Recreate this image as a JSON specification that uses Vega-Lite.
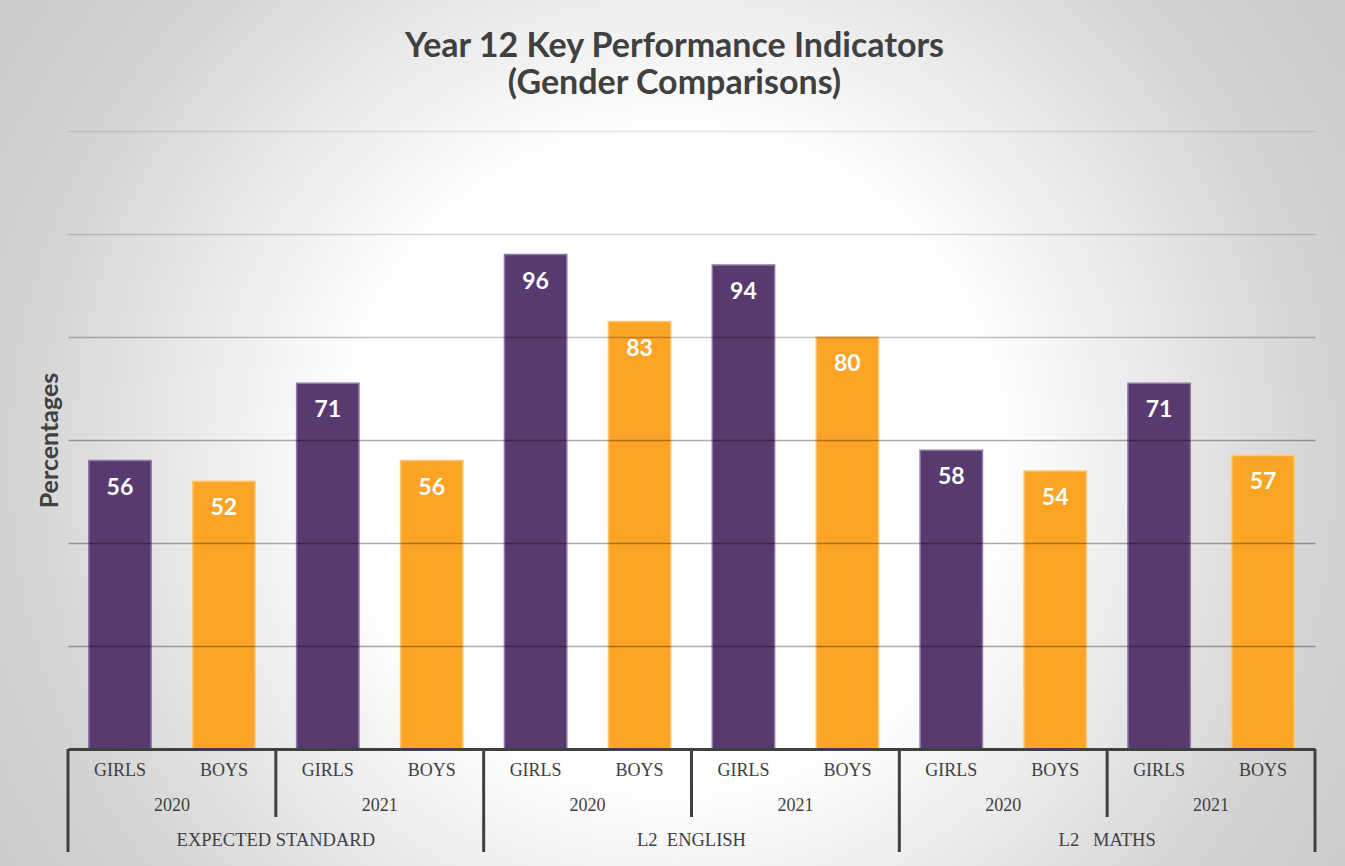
{
  "$schema": "https://vega.github.io/schema/vega-lite/v6.json",
  "width": 1247,
  "height": 618,
  "autosize": "none",
  "padding": {"left": 68, "top": 131, "right": 30, "bottom": 117},
  "background": "#dcdcdc",
  "config": {"view": {"stroke": null}, "font": "Lato"},
  "title": {
    "text": ["Year 12 Key Performance Indicators", "(Gender Comparisons)"],
    "font": "Lato",
    "fontSize": 34,
    "fontWeight": "bold",
    "color": "#404040",
    "lineHeight": 37,
    "anchor": "middle",
    "dx": -17,
    "offset": -101
  },
  "resolve": {"scale": {"x": "independent"}, "axis": {"x": "independent"}},
  "layer": [
    {
      "data": {"values": [{}]},
      "mark": {
        "type": "rect",
        "fill": {
          "gradient": "radial",
          "x1": 0.5, "y1": 0.52, "r1": 0,
          "x2": 0.5, "y2": 0.52, "r2": 0.6,
          "stops": [
            {"offset": 0, "color": "#ffffff"},
            {"offset": 0.4, "color": "#ffffff"},
            {"offset": 0.82, "color": "#d3d3d3"},
            {"offset": 1, "color": "#cbcbcb"}
          ]
        }
      },
      "encoding": {
        "x": {"datum": -0.05453, "type": "quantitative", "scale": {"domain": [0, 1], "nice": false, "zero": false}, "axis": null},
        "x2": {"datum": 1.02406},
        "y": {
          "datum": 145.44, "type": "quantitative", "scale": {"domain": [0, 120], "nice": false},
          "axis": {"labels": false, "ticks": false, "domain": false, "grid": true, "values": [20, 40, 60, 80, 100, 120], "gridColor": "#000000", "gridOpacity": {"condition": [{"test": "datum.value >= 120", "value": 0.1}, {"test": "datum.value >= 100", "value": 0.16}, {"test": "datum.value >= 80", "value": 0.24}], "value": 0.33}, "gridWidth": 1.5, "zindex": 1, "title": "Percentages", "titleFont": "Lato", "titleFontSize": 25, "titleFontWeight": "bold", "titleColor": "#404040", "titlePadding": 6}
        },
        "y2": {"datum": -22.72}
      }
    },
    {
      "data": {
        "values": [
          {"subject": "EXPECTED STANDARD", "year": "2020", "gender": "GIRLS", "value": 56, "grp": "EXPECTED STANDARD|2020"},
          {"subject": "EXPECTED STANDARD", "year": "2020", "gender": "BOYS", "value": 52, "grp": "EXPECTED STANDARD|2020"},
          {"subject": "EXPECTED STANDARD", "year": "2021", "gender": "GIRLS", "value": 71, "grp": "EXPECTED STANDARD|2021"},
          {"subject": "EXPECTED STANDARD", "year": "2021", "gender": "BOYS", "value": 56, "grp": "EXPECTED STANDARD|2021"},
          {"subject": "L2\u00a0\u00a0ENGLISH", "year": "2020", "gender": "GIRLS", "value": 96, "grp": "L2 ENGLISH|2020"},
          {"subject": "L2\u00a0\u00a0ENGLISH", "year": "2020", "gender": "BOYS", "value": 83, "grp": "L2 ENGLISH|2020"},
          {"subject": "L2\u00a0\u00a0ENGLISH", "year": "2021", "gender": "GIRLS", "value": 94, "grp": "L2 ENGLISH|2021"},
          {"subject": "L2\u00a0\u00a0ENGLISH", "year": "2021", "gender": "BOYS", "value": 80, "grp": "L2 ENGLISH|2021"},
          {"subject": "L2\u00a0\u00a0\u00a0MATHS", "year": "2020", "gender": "GIRLS", "value": 58, "grp": "L2 MATHS|2020"},
          {"subject": "L2\u00a0\u00a0\u00a0MATHS", "year": "2020", "gender": "BOYS", "value": 54, "grp": "L2 MATHS|2020"},
          {"subject": "L2\u00a0\u00a0\u00a0MATHS", "year": "2021", "gender": "GIRLS", "value": 71, "grp": "L2 MATHS|2021"},
          {"subject": "L2\u00a0\u00a0\u00a0MATHS", "year": "2021", "gender": "BOYS", "value": 57, "grp": "L2 MATHS|2021"}
        ]
      },
      "layer": [
        {
          "mark": {"type": "bar", "strokeWidth": 1.5},
          "encoding": {
            "x": {
              "field": "grp", "type": "nominal",
              "scale": {
                "domain": ["EXPECTED STANDARD|2020", "EXPECTED STANDARD|2021", "L2 ENGLISH|2020", "L2 ENGLISH|2021", "L2 MATHS|2020", "L2 MATHS|2021"],
                "paddingInner": 0, "paddingOuter": 0
              },
              "axis": {"labels": false, "ticks": false, "grid": false, "domain": true, "domainColor": "#404040", "domainWidth": 3, "title": null, "zindex": 1}
            },
            "xOffset": {"field": "gender", "type": "nominal", "scale": {"domain": ["GIRLS", "BOYS"], "paddingInner": 0.4, "paddingOuter": 0.2}},
            "y": {
              "field": "value", "type": "quantitative",
              "scale": {"domain": [0, 120], "nice": false},
              "axis": {"labels": false, "ticks": false, "domain": false, "grid": true, "values": [20, 40, 60, 80, 100, 120], "gridColor": "#000000", "gridOpacity": {"condition": [{"test": "datum.value >= 120", "value": 0.1}, {"test": "datum.value >= 100", "value": 0.16}, {"test": "datum.value >= 80", "value": 0.24}], "value": 0.33}, "gridWidth": 1.5, "zindex": 1, "title": "Percentages", "titleFont": "Lato", "titleFontSize": 25, "titleFontWeight": "bold", "titleColor": "#404040", "titlePadding": 6}
            },
            "color": {"field": "gender", "type": "nominal", "scale": {"domain": ["GIRLS", "BOYS"], "range": ["#583b6e", "#fba425"]}, "legend": null},
            "stroke": {"field": "gender", "type": "nominal", "scale": {"domain": ["GIRLS", "BOYS"], "range": ["#8d77a3", "#fdc673"]}, "legend": null}
          }
        },
        {
          "mark": {"type": "text", "color": "#ffffff", "font": "Lato", "fontWeight": "bold", "fontSize": 23, "baseline": "middle", "dy": 27},
          "encoding": {
            "x": {"field": "grp", "type": "nominal"},
            "xOffset": {"field": "gender", "type": "nominal"},
            "y": {"field": "value", "type": "quantitative"},
            "text": {"field": "value", "type": "quantitative"}
          }
        },
        {
          "mark": {"type": "text", "color": "#404040", "font": "Liberation Serif", "fontSize": 18, "baseline": "middle"},
          "encoding": {
            "x": {"field": "grp", "type": "nominal"},
            "xOffset": {"field": "gender", "type": "nominal"},
            "y": {"datum": -4.27, "type": "quantitative"},
            "text": {"field": "gender", "type": "nominal"}
          }
        },
        {
          "transform": [{"filter": "datum.gender == 'GIRLS'"}],
          "mark": {"type": "text", "color": "#404040", "font": "Liberation Serif", "fontSize": 18, "baseline": "middle"},
          "encoding": {
            "x": {"field": "grp", "type": "nominal"},
            "y": {"datum": -11.07, "type": "quantitative"},
            "text": {"field": "year", "type": "nominal"}
          }
        },
        {
          "transform": [{"filter": "datum.gender == 'GIRLS' && datum.year == '2021'"}],
          "mark": {"type": "text", "color": "#404040", "font": "Liberation Serif", "fontSize": 18.5, "baseline": "middle"},
          "encoding": {
            "x": {"field": "grp", "type": "nominal", "bandPosition": 0},
            "y": {"datum": -17.67, "type": "quantitative"},
            "text": {"field": "subject", "type": "nominal"}
          }
        },
        {
          "transform": [{"filter": "datum.gender == 'GIRLS' && datum.year == '2021'"}],
          "mark": {"type": "rule", "color": "#404040", "strokeWidth": 3},
          "encoding": {
            "x": {"field": "grp", "type": "nominal", "bandPosition": 0},
            "y": {"datum": 0, "type": "quantitative"},
            "y2": {"datum": -13.2}
          }
        },
        {
          "transform": [{"filter": "datum.gender == 'GIRLS' && datum.year == '2020'"}],
          "mark": {"type": "rule", "color": "#404040", "strokeWidth": 3},
          "encoding": {
            "x": {"field": "grp", "type": "nominal", "bandPosition": 0},
            "y": {"datum": 0, "type": "quantitative"},
            "y2": {"datum": -20}
          }
        },
        {
          "transform": [{"filter": "datum.gender == 'GIRLS' && datum.grp == 'L2 MATHS|2021'"}],
          "mark": {"type": "rule", "color": "#404040", "strokeWidth": 3},
          "encoding": {
            "x": {"field": "grp", "type": "nominal", "bandPosition": 1},
            "y": {"datum": 0, "type": "quantitative"},
            "y2": {"datum": -20}
          }
        }
      ]
    }
  ]
}
